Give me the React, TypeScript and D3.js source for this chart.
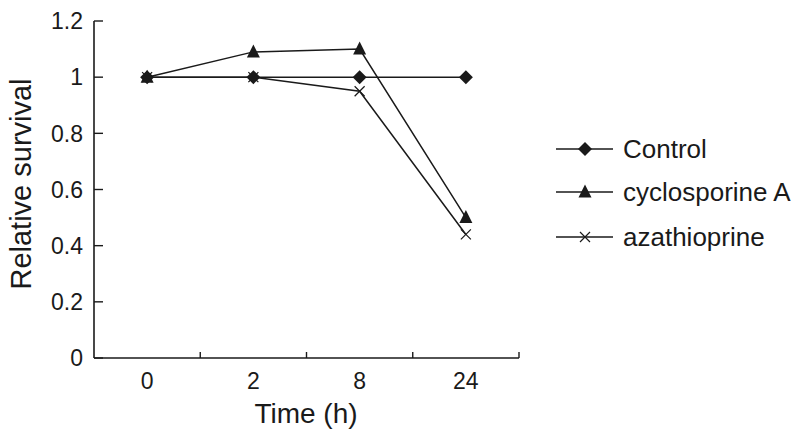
import React from "react";
import * as d3 from "d3";

const categories = ["0", "2", "8", "24"];
const controlValues = [1, 1, 1, 1];
const cyclosporineValues = [1, 1.09, 1.1, 0.5];
const azathioprineValues = [1, 1, 0.95, 0.44];
const yTicks = [0, 0.2, 0.4, 0.6, 0.8, 1, 1.2];
const yTickLabels = ["0", "0.2", "0.4", "0.6", "0.8", "1", "1.2"];
const seriesNames = ["Control", "cyclosporine A", "azathioprine"];

const FONT = "'Liberation Sans', Arial, Helvetica, sans-serif";
const INK = "#1a1a1a";

function Marker({ type, x, y }: { type: string; x: number; y: number }) {
  if (type === "diamond") {
    const s = 7;
    return <path d={`M${x},${y - s}L${x + s},${y}L${x},${y + s}L${x - s},${y}Z`} fill={INK} />;
  }
  if (type === "triangle") {
    const s = 6.5;
    return <path d={`M${x},${y - s - 1}L${x + s},${y + s - 1}L${x - s},${y + s - 1}Z`} fill={INK} />;
  }
  const s = 5;
  return (
    <path d={`M${x - s},${y - s}L${x + s},${y + s}M${x - s},${y + s}L${x + s},${y - s}`} stroke={INK} strokeWidth={1.2} fill="none" />
  );
}

export default function App() {
  const width = 800;
  const height = 439;
  const x = d3.scaleBand<string>().domain(categories).range([94, 519]).padding(0);
  const y = d3.scaleLinear().domain([0, 1.2]).range([358, 21]);
  const cx = (c: string) => (x(c) as number) + x.bandwidth() / 2;

  const series = [
    { name: seriesNames[0], values: controlValues, marker: "diamond" },
    { name: seriesNames[1], values: cyclosporineValues, marker: "triangle" },
    { name: seriesNames[2], values: azathioprineValues, marker: "cross" },
  ];

  const line = d3
    .line<number>()
    .x((_, i) => cx(categories[i]))
    .y((v) => y(v));

  const legendY = [149, 192, 237];

  return (
    <svg width={width} height={height} style={{ position: "absolute", left: 0, top: 0, background: "#fff" }}>
      <rect x={0} y={0} width={width} height={height} fill="#fff" />
      {/* axes */}
      <line x1={94} x2={94} y1={y(1.2)} y2={y(0)} stroke={INK} strokeWidth={1.6} />
      <line x1={94} x2={519} y1={y(0)} y2={y(0)} stroke={INK} strokeWidth={1.6} />
      {yTicks.map((t, i) => (
        <g key={t}>
          <line x1={94} x2={103} y1={y(t)} y2={y(t)} stroke={INK} strokeWidth={1.4} />
          <text x={83} y={y(t)} dy="0.36em" textAnchor="end" fontFamily={FONT} fontSize={23} fill={INK}>
            {yTickLabels[i]}
          </text>
        </g>
      ))}
      {categories.map((c) => (
        <g key={c}>
          <line
            x1={(x(c) as number) + x.bandwidth()}
            x2={(x(c) as number) + x.bandwidth()}
            y1={y(0)}
            y2={y(0) - 6}
            stroke={INK}
            strokeWidth={1.4}
          />
          <text x={cx(c)} y={389} textAnchor="middle" fontFamily={FONT} fontSize={23} fill={INK}>
            {c}
          </text>
        </g>
      ))}
      <text x={306} y={423} textAnchor="middle" fontFamily={FONT} fontSize={28} fill={INK}>
        Time (h)
      </text>
      <text
        transform={`translate(31,184) rotate(-90)`}
        textAnchor="middle"
        fontFamily={FONT}
        fontSize={29}
        fill={INK}
      >
        Relative survival
      </text>
      {/* series */}
      {series.map((s) => (
        <g key={s.name}>
          <path d={line(s.values) as string} fill="none" stroke={INK} strokeWidth={1.5} />
          {s.values.map((v, i) => (
            <Marker key={i} type={s.marker} x={cx(categories[i])} y={y(v)} />
          ))}
        </g>
      ))}
      {/* legend */}
      {series.map((s, i) => (
        <g key={s.name}>
          <line x1={556} x2={613} y1={legendY[i]} y2={legendY[i]} stroke={INK} strokeWidth={1.5} />
          <Marker type={s.marker} x={585} y={legendY[i]} />
          <text x={623} y={legendY[i]} dy="0.36em" fontFamily={FONT} fontSize={26} fill={INK}>
            {s.name}
          </text>
        </g>
      ))}
    </svg>
  );
}
